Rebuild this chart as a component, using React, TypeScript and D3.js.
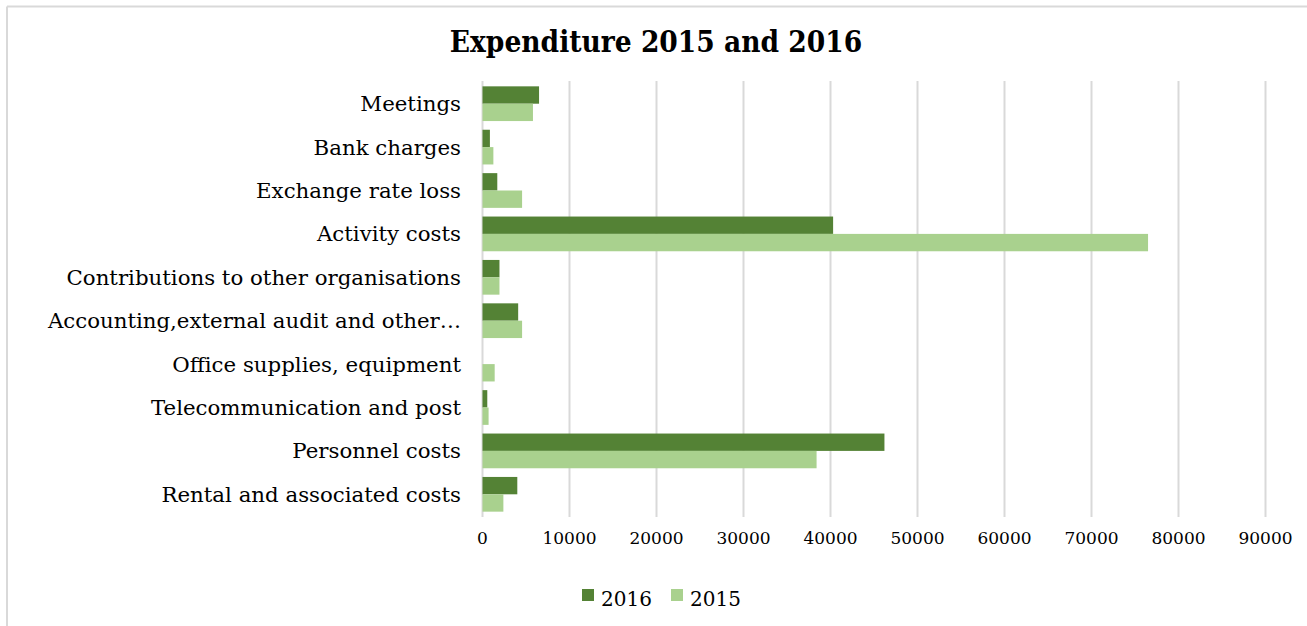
import React from "react";
import * as d3 from "d3";

const categories = [
  "Meetings",
  "Bank charges",
  "Exchange rate loss",
  "Activity costs",
  "Contributions to other organisations",
  "Accounting,external audit and other…",
  "Office supplies, equipment",
  "Telecommunication and post",
  "Personnel costs",
  "Rental and associated costs",
];

const values2016 = [6500, 850, 1700, 40300, 1950, 4100, 0, 550, 46200, 4000];
const values2015 = [5800, 1250, 4550, 76500, 1950, 4550, 1400, 700, 38400, 2400];

const seriesNames = ["2016", "2015"];
const seriesColors = ["#548235", "#a9d18e"];
const xTicks = [0, 10000, 20000, 30000, 40000, 50000, 60000, 70000, 80000, 90000];

const W = 1307;
const H = 626;

export default function App() {
  const x = d3.scaleLinear().domain([0, 90000]).range([482.5, 1265.5]);
  const y = d3
    .scaleBand<string>()
    .domain(categories)
    .range([82, 516])
    .paddingInner(0.2)
    .paddingOuter(0.1);
  const sub = d3
    .scaleBand<string>()
    .domain(seriesNames)
    .range([0, y.bandwidth()])
    .padding(0);
  const series = [values2016, values2015];
  const serif = "'DejaVu Serif', Georgia, serif";

  return (
    <svg
      width={W}
      height={H}
      style={{ position: "absolute", left: 0, top: 0, background: "#fff" }}
    >
      <rect x={0} y={0} width={W} height={H} fill="#fff" />
      {/* frame */}
      <line x1={7} x2={W} y1={6.5} y2={6.5} stroke="#d9d9d9" strokeWidth={2} />
      <line x1={7} x2={7} y1={6.5} y2={H} stroke="#d9d9d9" strokeWidth={2} />

      <text
        x={656}
        y={52}
        textAnchor="middle"
        fontFamily={serif}
        fontWeight="bold"
        fontSize={29.5}
        style={{ fontStretch: "condensed" }}
        fill="#000"
      >
        Expenditure 2015 and 2016
      </text>

      {/* gridlines */}
      {xTicks.map((t) => (
        <line
          key={"g" + t}
          x1={x(t)}
          x2={x(t)}
          y1={81}
          y2={517}
          stroke="#d9d9d9"
          strokeWidth={2}
        />
      ))}

      {/* bars */}
      {series.map((vals, si) =>
        categories.map((c, i) =>
          vals[i] > 0 ? (
            <rect
              key={si + "-" + c}
              x={x(0)}
              y={(y(c) as number) + (sub(seriesNames[si]) as number)}
              width={x(vals[i]) - x(0)}
              height={sub.bandwidth()}
              fill={seriesColors[si]}
            />
          ) : null
        )
      )}

      {/* category labels */}
      {categories.map((c) => (
        <text
          key={"l" + c}
          x={461}
          y={(y(c) as number) + y.bandwidth() / 2}
          dy="0.35em"
          textAnchor="end"
          fontFamily={serif}
          fontSize={21.3}
          fill="#000"
        >
          {c}
        </text>
      ))}

      {/* x tick labels */}
      {xTicks.map((t) => (
        <text
          key={"t" + t}
          x={x(t)}
          y={538}
          dy="0.35em"
          textAnchor="middle"
          fontFamily={serif}
          fontSize={17}
          fill="#000"
        >
          {t}
        </text>
      ))}

      {/* legend */}
      {seriesNames.map((s, i) => (
        <g key={"lg" + s} transform={`translate(${582 + i * 89},0)`}>
          <rect x={0} y={589} width={12} height={12} fill={seriesColors[i]} />
          <text x={19} y={606} fontFamily={serif} fontSize={20} fill="#000">
            {s}
          </text>
        </g>
      ))}
    </svg>
  );
}
